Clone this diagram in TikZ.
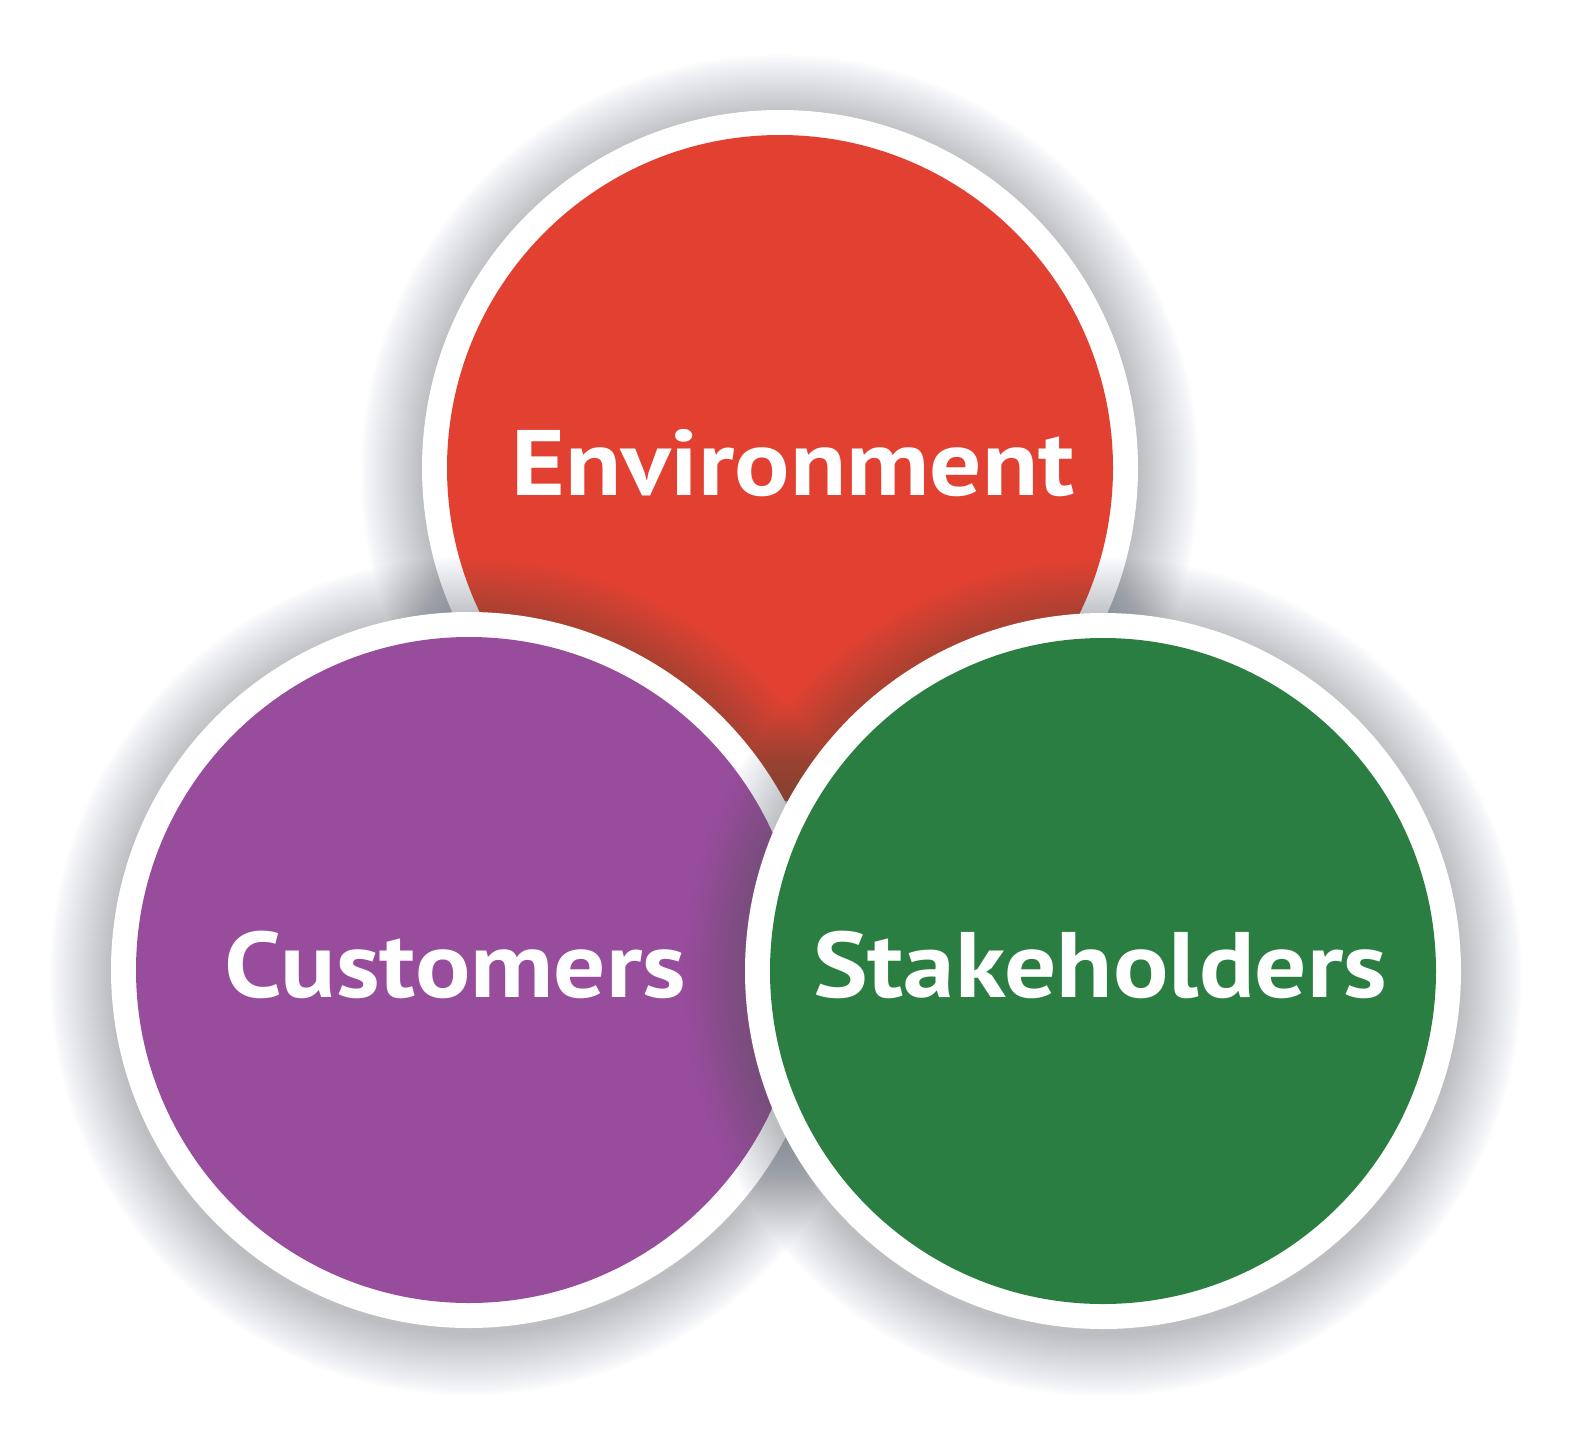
\documentclass[tikz,border=0pt]{standalone}
\usepackage{fontspec}
\setmainfont{PT Sans}[FakeStretch=1.11]
\definecolor{envred}{HTML}{E24131}
\definecolor{cuspurple}{HTML}{984C9C}
\definecolor{stkgreen}{HTML}{2B7E41}
\definecolor{shadowc}{RGB}{70,78,90}
\newcommand\mybubble[4]{%
  \foreach \rr in {359,361,...,419}{\fill[shadowc, opacity=0.011] (#1,#2+6) circle[radius=\rr];}
  \node[ringnode] (#4ring) at (#1,#2) {};
  \node[discnode, fill=#3] (#4) at (#1,#2) {};
}
\begin{document}
\begin{tikzpicture}[x=1pt,y=-1pt,
  ringnode/.style={circle, fill=white, minimum size=716pt, inner sep=0pt},
  discnode/.style={circle, minimum size=666pt, inner sep=0pt},
  lbl/.style={text=white, font=\bfseries\fontsize{93}{100}\selectfont, anchor=base, inner sep=0pt}]
\useasboundingbox (0,0) rectangle (1575,1443);
\fill[white] (0,0) rectangle (1575,1443);
\mybubble{780}{468}{envred}{env}
\mybubble{469}{970}{cuspurple}{cus}
\mybubble{1103}{971}{stkgreen}{stk}
\node[lbl] (envtext) at (793,495) {Environment};
\node[lbl] (custext) at (455,997) {Customers};
\node[lbl] (stktext) at (1100,997) {Stakeholders};
\end{tikzpicture}
\end{document}
